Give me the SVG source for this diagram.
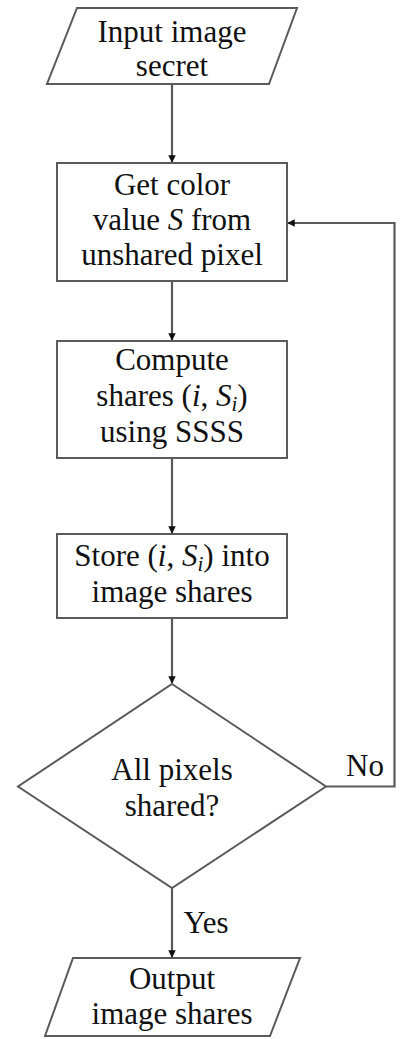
<svg xmlns="http://www.w3.org/2000/svg" width="404" height="1039" viewBox="0 0 404 1039">
<style>
.shape{fill:#fff;stroke:#5a5a5a;stroke-width:2}
.edge{fill:none;stroke:#5a5a5a;stroke-width:2.2}
text{font-family:'Liberation Serif','DejaVu Serif',serif;font-size:31px;fill:#111;text-anchor:middle}
.it{font-style:italic}
.sub{font-size:21px;font-style:italic}
</style>
<defs>
<marker id="arr" viewBox="0 0 10 10" refX="9" refY="5" markerWidth="3.4" markerHeight="3.4" orient="auto" markerUnits="strokeWidth">
<path d="M0,0 L10,5 L0,10 Z" fill="#111"/>
</marker>
</defs>
<rect width="404" height="1039" fill="#fff"/>
<g id="connectors">
<line class="edge" x1="172" y1="84" x2="172" y2="162" marker-end="url(#arr)"/>
<line class="edge" x1="172" y1="281" x2="172" y2="340" marker-end="url(#arr)"/>
<line class="edge" x1="172" y1="458" x2="172" y2="533" marker-end="url(#arr)"/>
<line class="edge" x1="172" y1="618" x2="172" y2="683" marker-end="url(#arr)"/>
<polyline class="edge" points="326,786.5 394.5,786.5 394.5,223 288,223" marker-end="url(#arr)"/>
<line class="edge" x1="172" y1="888" x2="172" y2="957" marker-end="url(#arr)"/>
<text x="365" y="776">No</text>
<text x="206" y="933">Yes</text>
</g>
<g id="input">
<polygon class="shape" points="77,8 297,8 269,84 47,84"/>
<text x="172" y="42">Input image</text>
<text x="172" y="76">secret</text>
</g>
<g id="getcolor">
<rect class="shape" x="57" y="163" width="230" height="118"/>
<text x="172" y="195">Get color</text>
<text x="172" y="230">value <tspan class="it">S</tspan> from</text>
<text x="172" y="265">unshared pixel</text>
</g>
<g id="compute">
<rect class="shape" x="57" y="341" width="230" height="117"/>
<text x="172" y="370">Compute</text>
<text x="172" y="406">shares (<tspan class="it">i</tspan>, <tspan class="it">S</tspan><tspan class="sub" dy="5">i</tspan><tspan dy="-5">)</tspan></text>
<text x="172" y="442">using SSSS</text>
</g>
<g id="store">
<rect class="shape" x="57" y="534" width="230" height="84"/>
<text x="172" y="566">Store (<tspan class="it">i</tspan>, <tspan class="it">S</tspan><tspan class="sub" dy="5">i</tspan><tspan dy="-5">) into</tspan></text>
<text x="172" y="602">image shares</text>
</g>
<g id="decision">
<polygon class="shape" points="172,684 326,786.5 172,888 18,786.5"/>
<text x="172" y="780">All pixels</text>
<text x="172" y="816">shared?</text>
</g>
<g id="output">
<polygon class="shape" points="73,958 300,958 270,1036 45,1036"/>
<text x="172" y="989">Output</text>
<text x="172" y="1024">image shares</text>
</g>
</svg>
